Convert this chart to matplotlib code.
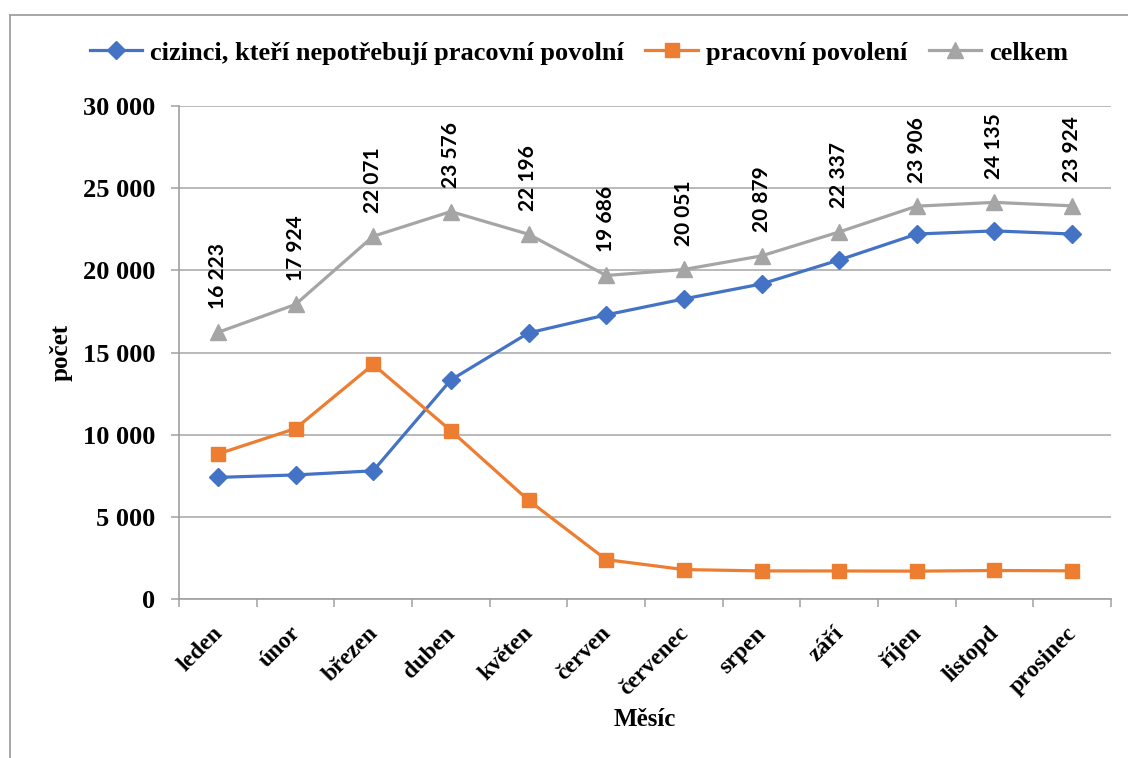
import matplotlib
matplotlib.use("Agg")
import matplotlib.pyplot as plt
import matplotlib.transforms as mtransforms
from matplotlib.lines import Line2D
from matplotlib.ticker import FuncFormatter, MultipleLocator

months = ["leden", "únor", "březen", "duben", "květen", "červen",
          "červenec", "srpen", "září", "říjen", "listopd", "prosinec"]
bez_povoleni = [7400, 7550, 7800, 13330, 16190, 17290,
                18260, 19170, 20630, 22210, 22400, 22210]
povoleni = [8823, 10374, 14271, 10246, 6006, 2396,
            1791, 1709, 1707, 1696, 1735, 1714]
celkem = [16223, 17924, 22071, 23576, 22196, 19686,
          20051, 20879, 22337, 23906, 24135, 23924]

series_names = ["cizinci, kteří nepotřebují pracovní povolní",
                "pracovní povolení", "celkem"]
colors = ["#4472C4", "#ED7D31", "#A5A5A5"]

serif = ["Liberation Serif", "DejaVu Serif"]
label_font = ["Lato", "DejaVu Sans"]


def fmt_thousands(v):
    return f"{int(round(v)):,}".replace(",", " ")


fig = plt.figure(figsize=(11.28, 7.58), dpi=100)
W, H = 1128, 758
ax = fig.add_axes([179 / W, 1 - 599 / H, (1111 - 179) / W, (599 - 106) / H])

x = list(range(len(months)))
ax.plot(x, bez_povoleni, color=colors[0], lw=2.3, marker="D", ms=9,
        label=series_names[0], zorder=3)
ax.plot(x, povoleni, color=colors[1], lw=2.3, marker="s", ms=10,
        label=series_names[1], zorder=3)
ax.plot(x, celkem, color=colors[2], lw=2.3, marker="^", ms=11,
        label=series_names[2], zorder=3)

for xi, v in zip(x, celkem):
    ax.annotate(fmt_thousands(v), (xi, v), xytext=(0, 17),
                textcoords="offset points", rotation=90,
                ha="center", va="bottom", fontsize=15, fontweight="bold",
                family=label_font, color="black")

ax.set_xlim(-0.5, len(months) - 0.5)
ax.set_ylim(0, 30000)
ax.yaxis.set_major_locator(MultipleLocator(5000))
ax.yaxis.set_major_formatter(FuncFormatter(lambda v, p: fmt_thousands(v)))
ax.grid(axis="y", color="#a6a6a6", lw=1.1, zorder=0)
ax.set_axisbelow(True)

for side in ["top", "right"]:
    ax.spines[side].set_visible(False)
for side in ["left", "bottom"]:
    ax.spines[side].set_color("#a0a0a0")
    ax.spines[side].set_linewidth(1.2)

ax.tick_params(axis="y", length=6, width=1.1, color="#a0a0a0", pad=11,
               labelsize=19)
for lbl in ax.get_yticklabels():
    lbl.set_family(serif)
    lbl.set_fontweight("bold")

# category ticks sit on the boundaries between months
ax.set_xticks([i - 0.5 for i in range(len(months) + 1)], minor=False)
ax.set_xticklabels([""] * (len(months) + 1))
ax.set_xticks(x, minor=True)
ax.set_xticklabels(months, minor=True)
ax.tick_params(axis="x", which="major", length=6, width=1.1, color="#a0a0a0")
ax.tick_params(axis="x", which="minor", length=0, pad=17, labelsize=17)
shift = mtransforms.ScaledTranslation(-6 / 100, 0, fig.dpi_scale_trans)
for lbl in ax.get_xticklabels(minor=True):
    lbl.set_rotation(45)
    lbl.set_ha("right")
    lbl.set_va("top")
    lbl.set_rotation_mode("anchor")
    lbl.set_family(serif)
    lbl.set_fontweight("bold")
    lbl.set_transform(lbl.get_transform() + shift)

fig.text(645 / W, 1 - 720 / H, "Měsíc", ha="center", va="center",
         fontsize=18, fontweight="bold", family=serif)
fig.text(61 / W, 1 - 352 / H, "počet", ha="center", va="center",
         rotation=90, fontsize=18, fontweight="bold", family=serif)

leg = fig.legend(loc="center", bbox_to_anchor=(579 / W, 1 - 53 / H),
                 ncol=3, frameon=False, handlelength=2.0, handletextpad=0.3,
                 columnspacing=0.8, prop={"family": serif, "weight": "bold",
                                          "size": 19})

# chart frame
fig.add_artist(Line2D([10 / W, 10 / W], [0, 1 - 15 / H], color="#a0a0a0",
                      lw=1.3, transform=fig.transFigure))
fig.add_artist(Line2D([10 / W, 1], [1 - 15 / H, 1 - 15 / H], color="#a0a0a0",
                      lw=1.3, transform=fig.transFigure))

fig.savefig("out.png", dpi=100, facecolor="white")
